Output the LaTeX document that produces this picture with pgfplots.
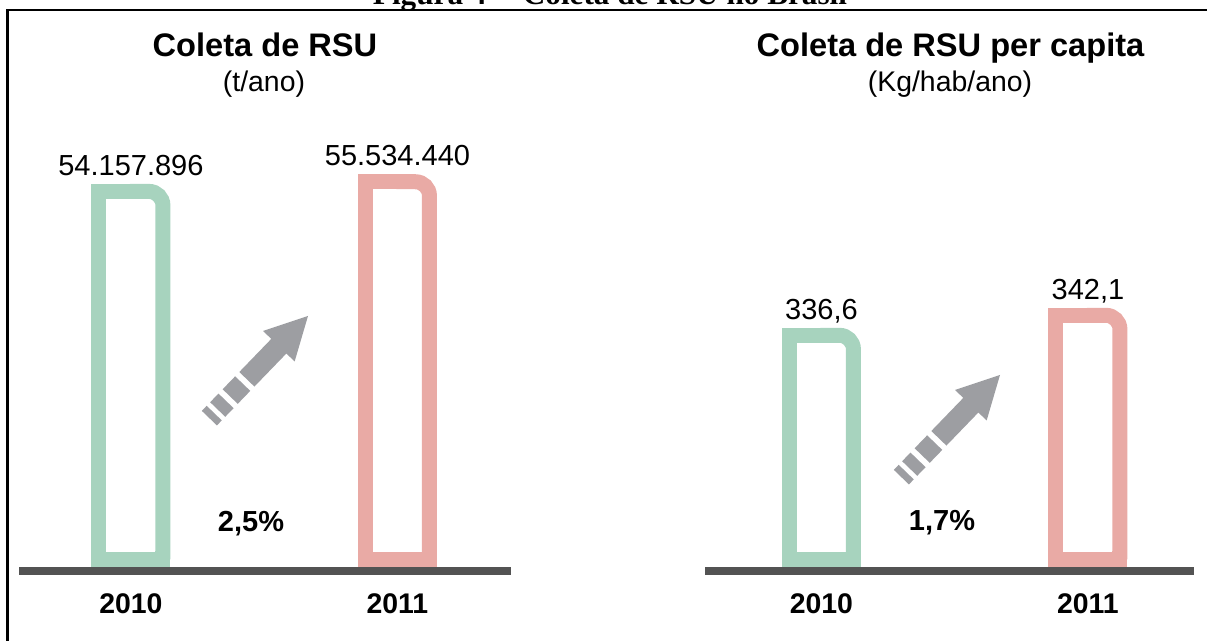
\documentclass[border=0pt]{standalone}
\usepackage{fontspec}
\setmainfont{Liberation Sans}
\newfontfamily\capfont{Liberation Serif}
\usepackage{pgfplots}
\pgfplotsset{compat=1.18}
\usepackage{pgfplotstable}
\definecolor{cgreen}{RGB}{167,211,190}
\definecolor{cpink}{RGB}{233,170,165}
\definecolor{cbase}{RGB}{83,83,83}
\definecolor{carrow}{RGB}{157,158,162}

\pgfplotstableread{
x y label
0 54157896 54.157.896
1 55534440 55.534.440
}\leftdata
\pgfplotstableread{
x y label
0 336.6 336,6
1 342.1 342,1
}\rightdata

\newcommand{\trendarrow}[2]{%
\begin{scope}[shift={(#1,#2)}, rotate=46, x=0.5pt, y=0.5pt]
\fill[carrow] (0,0) -- (-42,22) -- (-42,10.5) -- (-88,10.5) -- (-88,-10.5) -- (-42,-10.5) -- (-42,-22) -- cycle;
\fill[carrow] (-94,-10.5) rectangle (-112,10.5);
\fill[carrow] (-118,-10.5) rectangle (-130,10.5);
\fill[carrow] (-135,-10.5) rectangle (-142,10.5);
\end{scope}}

\pgfplotsset{rsu/.style={
  scale only axis, anchor=south west, height=235.5pt,
  axis x line=bottom, axis y line=none,
  x axis line style={-, line width=4pt, color=cbase},
  xtick={0,1}, xticklabels={2010,2011},
  major tick length=0pt, xtick style={draw=none},
  xticklabel style={anchor=base, yshift=-21.5pt, font=\fontsize{14.2}{17}\selectfont\bfseries, text=black},
  ytick=\empty, clip=false,
  nodes near coords style={anchor=base, yshift=8pt, font=\fontsize{14.5}{17}\selectfont, text=black},
}}

\begin{document}
\begin{tikzpicture}
% frame and caption
\draw[line width=1.25pt, black] (3.75pt,-5pt) -- (3.75pt,315.5pt) -- (610pt,315.5pt);
\node[anchor=base, font=\capfont\bfseries\fontsize{15.6}{18}\selectfont] at (305pt,318pt) {Figura 4 -- Coleta de RSU no Brasil};

% titles
\node[anchor=base, font=\fontsize{16.3}{19}\selectfont\bfseries] at (132.5pt,292pt) {Coleta de RSU};
\node[anchor=base, font=\fontsize{14.2}{17}\selectfont] at (132pt,274.5pt) {(t/ano)};
\node[anchor=base, font=\fontsize{16.3}{19}\selectfont\bfseries] at (475.25pt,292pt) {Coleta de RSU per capita};
\node[anchor=base, font=\fontsize{14.2}{17}\selectfont] at (475pt,274.5pt) {(Kg/hab/ano)};

% left panel
\begin{axis}[rsu, at={(9.5pt,35pt)}, width=246pt, xmin=-0.420, xmax=1.426, ymin=0, ymax=67.2e6]
\addplot[draw=cgreen, line width=7.5pt, rounded corners=7pt, mark=none] coordinates {(-0.004,54157896) (0.12,54157896) (0.12,1.64e6)};
\addplot[draw=cgreen, line width=7.5pt, line join=miter, mark=none] coordinates {(0,54157896) (-0.12,54157896) (-0.12,1.64e6) (0.12,1.64e6) (0.12,2.84e6)};
\addplot[draw=cpink, line width=7.5pt, rounded corners=7pt, mark=none] coordinates {(0.996,55534440) (1.12,55534440) (1.12,1.64e6)};
\addplot[draw=cpink, line width=7.5pt, line join=miter, mark=none] coordinates {(1,55534440) (0.88,55534440) (0.88,1.64e6) (1.12,1.64e6) (1.12,2.84e6)};
\addplot[draw=none, mark=none, nodes near coords, point meta=explicit symbolic] table[x=x, y=y, meta=label] {\leftdata};
\end{axis}

% right panel
\begin{axis}[rsu, at={(352.5pt,35pt)}, width=244.5pt, xmin=-0.437, xmax=1.398, ymin=271.8, ymax=401.3]
\addplot[draw=cgreen, line width=7.5pt, rounded corners=7pt, mark=none] coordinates {(-0.004,336.6) (0.12,336.6) (0.12,275)};
\addplot[draw=cgreen, line width=7.5pt, line join=miter, mark=none] coordinates {(0,336.6) (-0.12,336.6) (-0.12,275) (0.12,275) (0.12,277.3)};
\addplot[draw=cpink, line width=7.5pt, rounded corners=7pt, mark=none] coordinates {(0.996,342.1) (1.12,342.1) (1.12,275)};
\addplot[draw=cpink, line width=7.5pt, line join=miter, mark=none] coordinates {(1,342.1) (0.88,342.1) (0.88,275) (1.12,275) (1.12,277.3)};
\addplot[draw=none, mark=none, nodes near coords, point meta=explicit symbolic] table[x=x, y=y, meta=label] {\rightdata};
\end{axis}

% arrows and percentages
\trendarrow{154pt}{162.5pt}
\trendarrow{500pt}{133pt}
\node[anchor=base, font=\fontsize{14.5}{17}\selectfont\bfseries] at (125.5pt,54.5pt) {2,5\%};
\node[anchor=base, font=\fontsize{14.5}{17}\selectfont\bfseries] at (471pt,55pt) {1,7\%};

\pgfresetboundingbox
\useasboundingbox (0pt,0pt) rectangle (603.5pt,320.5pt);
\end{tikzpicture}
\end{document}
